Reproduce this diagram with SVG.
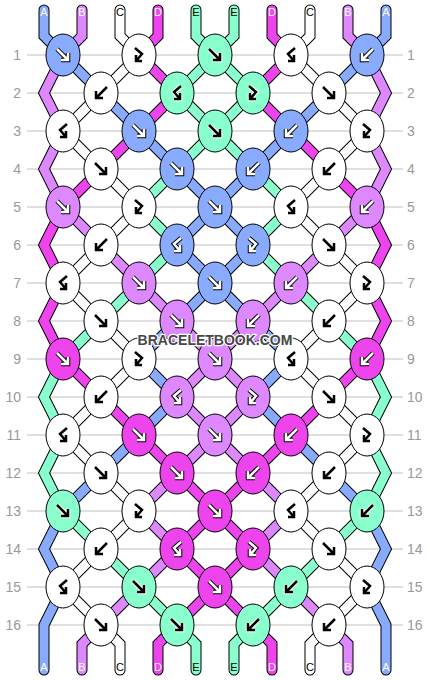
<svg xmlns="http://www.w3.org/2000/svg" xmlns:xlink="http://www.w3.org/1999/xlink" width="430" height="680" viewBox="0 0 430 680">
<style>
.bg{fill:#fff}
.grid{stroke:#c0c0c0;stroke-width:1;fill:none}
.num{font-family:"Liberation Sans",Arial,sans-serif;font-size:14px;fill:#999}
.nl{text-anchor:end}
.nr{text-anchor:start}
.st path{fill:none;stroke-linejoin:miter;stroke-miterlimit:2;stroke-linecap:round}
.st .o{stroke:#000;stroke-width:11}
.st .A{stroke:#88aaff;stroke-width:9}
.st .B{stroke:#dd88ff;stroke-width:9}
.st .C{stroke:#ffffff;stroke-width:9}
.st .D{stroke:#ee44ee;stroke-width:9}
.st .E{stroke:#88ffcc;stroke-width:9}
.k ellipse{stroke:#000;stroke-width:1}
.k .A{fill:#88aaff}
.k .B{fill:#dd88ff}
.k .C{fill:#ffffff}
.k .D{fill:#ee44ee}
.k .E{fill:#88ffcc}
.k use{fill:none;stroke-linejoin:miter;stroke-linecap:butt}
.k .ao{stroke-width:4.5}
.k .ai{stroke-width:2.5}
.d .ao{stroke:#000}
.d .ai{stroke:#fff}
.l .ao{stroke:#fff}
.l .ai{stroke:#000}
.lb{font-family:"Liberation Sans",Arial,sans-serif;font-size:11px;text-anchor:middle}
.lw{fill:#fff}
.lk{fill:#000}
.wm{font-family:"Liberation Sans",Arial,sans-serif;font-size:14px;font-weight:bold;text-anchor:middle;fill:#474747;stroke:#fff;stroke-width:2.5;paint-order:stroke;stroke-linejoin:round}
</style>
<defs>
<path id="f" d="M-6,-6L5,5M5,-2L5,5L-2,5"/>
<path id="b" d="M6,-6L-5,5M-5,-2L-5,5L2,5"/>
<path id="fb" d="M-4,-7L3,-1L-3,6M-3,0L-3,6L3,6"/>
<path id="bf" d="M4,-7L-3,-1L3,6M3,0L3,6L-3,6"/>
</defs>
<rect class="bg" x="0" y="0" width="430" height="680"/>
<g id="rows">
<path class="grid" d="M27,55H403M27,93H403M27,131H403M27,169H403M27,207H403M27,245H403M27,283H403M27,321H403M27,359H403M27,397H403M27,435H403M27,473H403M27,511H403M27,549H403M27,587H403M27,625H403"/>
<g class="num nl">
<text x="21" y="60">1</text><text x="21" y="98">2</text><text x="21" y="136">3</text><text x="21" y="174">4</text><text x="21" y="212">5</text><text x="21" y="250">6</text><text x="21" y="288">7</text><text x="21" y="326">8</text><text x="21" y="364">9</text><text x="21" y="402">10</text><text x="21" y="440">11</text><text x="21" y="478">12</text><text x="21" y="516">13</text><text x="21" y="554">14</text><text x="21" y="592">15</text><text x="21" y="630">16</text>
</g>
<g class="num nr">
<text x="407" y="60">1</text><text x="407" y="98">2</text><text x="407" y="136">3</text><text x="407" y="174">4</text><text x="407" y="212">5</text><text x="407" y="250">6</text><text x="407" y="288">7</text><text x="407" y="326">8</text><text x="407" y="364">9</text><text x="407" y="402">10</text><text x="407" y="440">11</text><text x="407" y="478">12</text><text x="407" y="516">13</text><text x="407" y="554">14</text><text x="407" y="592">15</text><text x="407" y="630">16</text>
</g>
</g>
<g id="connectors" class="st">
<g id="s1"><path class="o" d="M44,10L44,36L63,55L101,93L139,131L177,169L215,207L253,245L215,283L177,321L139,359L177,397L139,435L101,473L63,511L44,549L63,587L44,625L44,670"/><path class="A" d="M44,10L44,36L63,55L101,93L139,131L177,169L215,207L253,245L215,283L177,321L139,359L177,397L139,435L101,473L63,511L44,549L63,587L44,625L44,670"/></g>
<g id="s2"><path class="o" d="M82,10L82,36L63,55L44,93L63,131L44,169L63,207L101,245L139,283L177,321L215,359L253,397L215,435L177,473L139,511L177,549L139,587L101,625L82,644L82,670"/><path class="B" d="M82,10L82,36L63,55L44,93L63,131L44,169L63,207L101,245L139,283L177,321L215,359L253,397L215,435L177,473L139,511L177,549L139,587L101,625L82,644L82,670"/></g>
<g id="s3"><path class="o" d="M120,10L120,36L139,55L101,93L63,131L101,169L139,207L101,245L63,283L101,321L139,359L101,397L63,435L101,473L139,511L101,549L63,587L101,625L120,644L120,670"/><path class="C" d="M120,10L120,36L139,55L101,93L63,131L101,169L139,207L101,245L63,283L101,321L139,359L101,397L63,435L101,473L139,511L101,549L63,587L101,625L120,644L120,670"/></g>
<g id="s4"><path class="o" d="M158,10L158,36L139,55L177,93L139,131L101,169L63,207L44,245L63,283L44,321L63,359L101,397L139,435L177,473L215,511L253,549L215,587L177,625L158,644L158,670"/><path class="D" d="M158,10L158,36L139,55L177,93L139,131L101,169L63,207L44,245L63,283L44,321L63,359L101,397L139,435L177,473L215,511L253,549L215,587L177,625L158,644L158,670"/></g>
<g id="s5"><path class="o" d="M196,10L196,36L215,55L253,93L215,131L177,169L139,207L177,245L139,283L101,321L63,359L44,397L63,435L44,473L63,511L101,549L139,587L177,625L196,644L196,670"/><path class="E" d="M196,10L196,36L215,55L253,93L215,131L177,169L139,207L177,245L139,283L101,321L63,359L44,397L63,435L44,473L63,511L101,549L139,587L177,625L196,644L196,670"/></g>
<g id="s6"><path class="o" d="M234,10L234,36L215,55L177,93L215,131L253,169L291,207L253,245L291,283L329,321L367,359L386,397L367,435L386,473L367,511L329,549L291,587L253,625L234,644L234,670"/><path class="E" d="M234,10L234,36L215,55L177,93L215,131L253,169L291,207L253,245L291,283L329,321L367,359L386,397L367,435L386,473L367,511L329,549L291,587L253,625L234,644L234,670"/></g>
<g id="s7"><path class="o" d="M272,10L272,36L291,55L253,93L291,131L329,169L367,207L386,245L367,283L386,321L367,359L329,397L291,435L253,473L215,511L177,549L215,587L253,625L272,644L272,670"/><path class="D" d="M272,10L272,36L291,55L253,93L291,131L329,169L367,207L386,245L367,283L386,321L367,359L329,397L291,435L253,473L215,511L177,549L215,587L253,625L272,644L272,670"/></g>
<g id="s8"><path class="o" d="M310,10L310,36L291,55L329,93L367,131L329,169L291,207L329,245L367,283L329,321L291,359L329,397L367,435L329,473L291,511L329,549L367,587L329,625L310,644L310,670"/><path class="C" d="M310,10L310,36L291,55L329,93L367,131L329,169L291,207L329,245L367,283L329,321L291,359L329,397L367,435L329,473L291,511L329,549L367,587L329,625L310,644L310,670"/></g>
<g id="s9"><path class="o" d="M348,10L348,36L367,55L386,93L367,131L386,169L367,207L329,245L291,283L253,321L215,359L177,397L215,435L253,473L291,511L253,549L291,587L329,625L348,644L348,670"/><path class="B" d="M348,10L348,36L367,55L386,93L367,131L386,169L367,207L329,245L291,283L253,321L215,359L177,397L215,435L253,473L291,511L253,549L291,587L329,625L348,644L348,670"/></g>
<g id="s10"><path class="o" d="M386,10L386,36L367,55L329,93L291,131L253,169L215,207L177,245L215,283L253,321L291,359L253,397L291,435L329,473L367,511L386,549L367,587L386,625L386,670"/><path class="A" d="M386,10L386,36L367,55L329,93L291,131L253,169L215,207L177,245L215,283L253,321L291,359L253,397L291,435L329,473L367,511L386,549L367,587L386,625L386,670"/></g>
</g>
<g id="labels">
<text class="lb lw" x="44" y="16">A</text><text class="lb lw" x="82" y="16">B</text><text class="lb lk" x="120" y="16">C</text><text class="lb lw" x="158" y="16">D</text><text class="lb lk" x="196" y="16">E</text><text class="lb lk" x="234" y="16">E</text><text class="lb lw" x="272" y="16">D</text><text class="lb lk" x="310" y="16">C</text><text class="lb lw" x="348" y="16">B</text><text class="lb lw" x="386" y="16">A</text>
<text class="lb lw" x="44" y="671">A</text><text class="lb lw" x="82" y="671">B</text><text class="lb lk" x="120" y="671">C</text><text class="lb lw" x="158" y="671">D</text><text class="lb lk" x="196" y="671">E</text><text class="lb lk" x="234" y="671">E</text><text class="lb lw" x="272" y="671">D</text><text class="lb lk" x="310" y="671">C</text><text class="lb lw" x="348" y="671">B</text><text class="lb lw" x="386" y="671">A</text>
</g>
<g id="knots">
<g id="k1_1" class="k d" transform="translate(63,55)"><ellipse class="A" rx="17" ry="21"/><use href="#f" class="ao"/><use href="#f" class="ai"/></g>
<g id="k1_2" class="k l" transform="translate(139,55)"><ellipse class="C" rx="17" ry="21"/><use href="#fb" class="ao"/><use href="#fb" class="ai"/></g>
<g id="k1_3" class="k l" transform="translate(215,55)"><ellipse class="E" rx="17" ry="21"/><use href="#f" class="ao"/><use href="#f" class="ai"/></g>
<g id="k1_4" class="k l" transform="translate(291,55)"><ellipse class="C" rx="17" ry="21"/><use href="#bf" class="ao"/><use href="#bf" class="ai"/></g>
<g id="k1_5" class="k d" transform="translate(367,55)"><ellipse class="A" rx="17" ry="21"/><use href="#b" class="ao"/><use href="#b" class="ai"/></g>
<g id="k2_1" class="k l" transform="translate(101,93)"><ellipse class="C" rx="17" ry="21"/><use href="#b" class="ao"/><use href="#b" class="ai"/></g>
<g id="k2_2" class="k l" transform="translate(177,93)"><ellipse class="E" rx="17" ry="21"/><use href="#bf" class="ao"/><use href="#bf" class="ai"/></g>
<g id="k2_3" class="k l" transform="translate(253,93)"><ellipse class="E" rx="17" ry="21"/><use href="#fb" class="ao"/><use href="#fb" class="ai"/></g>
<g id="k2_4" class="k l" transform="translate(329,93)"><ellipse class="C" rx="17" ry="21"/><use href="#f" class="ao"/><use href="#f" class="ai"/></g>
<g id="k3_1" class="k l" transform="translate(63,131)"><ellipse class="C" rx="17" ry="21"/><use href="#bf" class="ao"/><use href="#bf" class="ai"/></g>
<g id="k3_2" class="k d" transform="translate(139,131)"><ellipse class="A" rx="17" ry="21"/><use href="#f" class="ao"/><use href="#f" class="ai"/></g>
<g id="k3_3" class="k l" transform="translate(215,131)"><ellipse class="E" rx="17" ry="21"/><use href="#f" class="ao"/><use href="#f" class="ai"/></g>
<g id="k3_4" class="k d" transform="translate(291,131)"><ellipse class="A" rx="17" ry="21"/><use href="#b" class="ao"/><use href="#b" class="ai"/></g>
<g id="k3_5" class="k l" transform="translate(367,131)"><ellipse class="C" rx="17" ry="21"/><use href="#fb" class="ao"/><use href="#fb" class="ai"/></g>
<g id="k4_1" class="k l" transform="translate(101,169)"><ellipse class="C" rx="17" ry="21"/><use href="#f" class="ao"/><use href="#f" class="ai"/></g>
<g id="k4_2" class="k d" transform="translate(177,169)"><ellipse class="A" rx="17" ry="21"/><use href="#f" class="ao"/><use href="#f" class="ai"/></g>
<g id="k4_3" class="k d" transform="translate(253,169)"><ellipse class="A" rx="17" ry="21"/><use href="#b" class="ao"/><use href="#b" class="ai"/></g>
<g id="k4_4" class="k l" transform="translate(329,169)"><ellipse class="C" rx="17" ry="21"/><use href="#b" class="ao"/><use href="#b" class="ai"/></g>
<g id="k5_1" class="k d" transform="translate(63,207)"><ellipse class="B" rx="17" ry="21"/><use href="#f" class="ao"/><use href="#f" class="ai"/></g>
<g id="k5_2" class="k l" transform="translate(139,207)"><ellipse class="C" rx="17" ry="21"/><use href="#fb" class="ao"/><use href="#fb" class="ai"/></g>
<g id="k5_3" class="k d" transform="translate(215,207)"><ellipse class="A" rx="17" ry="21"/><use href="#f" class="ao"/><use href="#f" class="ai"/></g>
<g id="k5_4" class="k l" transform="translate(291,207)"><ellipse class="C" rx="17" ry="21"/><use href="#bf" class="ao"/><use href="#bf" class="ai"/></g>
<g id="k5_5" class="k d" transform="translate(367,207)"><ellipse class="B" rx="17" ry="21"/><use href="#b" class="ao"/><use href="#b" class="ai"/></g>
<g id="k6_1" class="k l" transform="translate(101,245)"><ellipse class="C" rx="17" ry="21"/><use href="#b" class="ao"/><use href="#b" class="ai"/></g>
<g id="k6_2" class="k d" transform="translate(177,245)"><ellipse class="A" rx="17" ry="21"/><use href="#bf" class="ao"/><use href="#bf" class="ai"/></g>
<g id="k6_3" class="k d" transform="translate(253,245)"><ellipse class="A" rx="17" ry="21"/><use href="#fb" class="ao"/><use href="#fb" class="ai"/></g>
<g id="k6_4" class="k l" transform="translate(329,245)"><ellipse class="C" rx="17" ry="21"/><use href="#f" class="ao"/><use href="#f" class="ai"/></g>
<g id="k7_1" class="k l" transform="translate(63,283)"><ellipse class="C" rx="17" ry="21"/><use href="#bf" class="ao"/><use href="#bf" class="ai"/></g>
<g id="k7_2" class="k d" transform="translate(139,283)"><ellipse class="B" rx="17" ry="21"/><use href="#f" class="ao"/><use href="#f" class="ai"/></g>
<g id="k7_3" class="k d" transform="translate(215,283)"><ellipse class="A" rx="17" ry="21"/><use href="#f" class="ao"/><use href="#f" class="ai"/></g>
<g id="k7_4" class="k d" transform="translate(291,283)"><ellipse class="B" rx="17" ry="21"/><use href="#b" class="ao"/><use href="#b" class="ai"/></g>
<g id="k7_5" class="k l" transform="translate(367,283)"><ellipse class="C" rx="17" ry="21"/><use href="#fb" class="ao"/><use href="#fb" class="ai"/></g>
<g id="k8_1" class="k l" transform="translate(101,321)"><ellipse class="C" rx="17" ry="21"/><use href="#f" class="ao"/><use href="#f" class="ai"/></g>
<g id="k8_2" class="k d" transform="translate(177,321)"><ellipse class="B" rx="17" ry="21"/><use href="#f" class="ao"/><use href="#f" class="ai"/></g>
<g id="k8_3" class="k d" transform="translate(253,321)"><ellipse class="B" rx="17" ry="21"/><use href="#b" class="ao"/><use href="#b" class="ai"/></g>
<g id="k8_4" class="k l" transform="translate(329,321)"><ellipse class="C" rx="17" ry="21"/><use href="#b" class="ao"/><use href="#b" class="ai"/></g>
<g id="k9_1" class="k d" transform="translate(63,359)"><ellipse class="D" rx="17" ry="21"/><use href="#f" class="ao"/><use href="#f" class="ai"/></g>
<g id="k9_2" class="k l" transform="translate(139,359)"><ellipse class="C" rx="17" ry="21"/><use href="#fb" class="ao"/><use href="#fb" class="ai"/></g>
<g id="k9_3" class="k d" transform="translate(215,359)"><ellipse class="B" rx="17" ry="21"/><use href="#f" class="ao"/><use href="#f" class="ai"/></g>
<g id="k9_4" class="k l" transform="translate(291,359)"><ellipse class="C" rx="17" ry="21"/><use href="#bf" class="ao"/><use href="#bf" class="ai"/></g>
<g id="k9_5" class="k d" transform="translate(367,359)"><ellipse class="D" rx="17" ry="21"/><use href="#b" class="ao"/><use href="#b" class="ai"/></g>
<g id="k10_1" class="k l" transform="translate(101,397)"><ellipse class="C" rx="17" ry="21"/><use href="#b" class="ao"/><use href="#b" class="ai"/></g>
<g id="k10_2" class="k d" transform="translate(177,397)"><ellipse class="B" rx="17" ry="21"/><use href="#bf" class="ao"/><use href="#bf" class="ai"/></g>
<g id="k10_3" class="k d" transform="translate(253,397)"><ellipse class="B" rx="17" ry="21"/><use href="#fb" class="ao"/><use href="#fb" class="ai"/></g>
<g id="k10_4" class="k l" transform="translate(329,397)"><ellipse class="C" rx="17" ry="21"/><use href="#f" class="ao"/><use href="#f" class="ai"/></g>
<g id="k11_1" class="k l" transform="translate(63,435)"><ellipse class="C" rx="17" ry="21"/><use href="#bf" class="ao"/><use href="#bf" class="ai"/></g>
<g id="k11_2" class="k d" transform="translate(139,435)"><ellipse class="D" rx="17" ry="21"/><use href="#f" class="ao"/><use href="#f" class="ai"/></g>
<g id="k11_3" class="k d" transform="translate(215,435)"><ellipse class="B" rx="17" ry="21"/><use href="#f" class="ao"/><use href="#f" class="ai"/></g>
<g id="k11_4" class="k d" transform="translate(291,435)"><ellipse class="D" rx="17" ry="21"/><use href="#b" class="ao"/><use href="#b" class="ai"/></g>
<g id="k11_5" class="k l" transform="translate(367,435)"><ellipse class="C" rx="17" ry="21"/><use href="#fb" class="ao"/><use href="#fb" class="ai"/></g>
<g id="k12_1" class="k l" transform="translate(101,473)"><ellipse class="C" rx="17" ry="21"/><use href="#f" class="ao"/><use href="#f" class="ai"/></g>
<g id="k12_2" class="k d" transform="translate(177,473)"><ellipse class="D" rx="17" ry="21"/><use href="#f" class="ao"/><use href="#f" class="ai"/></g>
<g id="k12_3" class="k d" transform="translate(253,473)"><ellipse class="D" rx="17" ry="21"/><use href="#b" class="ao"/><use href="#b" class="ai"/></g>
<g id="k12_4" class="k l" transform="translate(329,473)"><ellipse class="C" rx="17" ry="21"/><use href="#b" class="ao"/><use href="#b" class="ai"/></g>
<g id="k13_1" class="k l" transform="translate(63,511)"><ellipse class="E" rx="17" ry="21"/><use href="#f" class="ao"/><use href="#f" class="ai"/></g>
<g id="k13_2" class="k l" transform="translate(139,511)"><ellipse class="C" rx="17" ry="21"/><use href="#fb" class="ao"/><use href="#fb" class="ai"/></g>
<g id="k13_3" class="k d" transform="translate(215,511)"><ellipse class="D" rx="17" ry="21"/><use href="#f" class="ao"/><use href="#f" class="ai"/></g>
<g id="k13_4" class="k l" transform="translate(291,511)"><ellipse class="C" rx="17" ry="21"/><use href="#bf" class="ao"/><use href="#bf" class="ai"/></g>
<g id="k13_5" class="k l" transform="translate(367,511)"><ellipse class="E" rx="17" ry="21"/><use href="#b" class="ao"/><use href="#b" class="ai"/></g>
<g id="k14_1" class="k l" transform="translate(101,549)"><ellipse class="C" rx="17" ry="21"/><use href="#b" class="ao"/><use href="#b" class="ai"/></g>
<g id="k14_2" class="k d" transform="translate(177,549)"><ellipse class="D" rx="17" ry="21"/><use href="#bf" class="ao"/><use href="#bf" class="ai"/></g>
<g id="k14_3" class="k d" transform="translate(253,549)"><ellipse class="D" rx="17" ry="21"/><use href="#fb" class="ao"/><use href="#fb" class="ai"/></g>
<g id="k14_4" class="k l" transform="translate(329,549)"><ellipse class="C" rx="17" ry="21"/><use href="#f" class="ao"/><use href="#f" class="ai"/></g>
<g id="k15_1" class="k l" transform="translate(63,587)"><ellipse class="C" rx="17" ry="21"/><use href="#bf" class="ao"/><use href="#bf" class="ai"/></g>
<g id="k15_2" class="k l" transform="translate(139,587)"><ellipse class="E" rx="17" ry="21"/><use href="#f" class="ao"/><use href="#f" class="ai"/></g>
<g id="k15_3" class="k d" transform="translate(215,587)"><ellipse class="D" rx="17" ry="21"/><use href="#f" class="ao"/><use href="#f" class="ai"/></g>
<g id="k15_4" class="k l" transform="translate(291,587)"><ellipse class="E" rx="17" ry="21"/><use href="#b" class="ao"/><use href="#b" class="ai"/></g>
<g id="k15_5" class="k l" transform="translate(367,587)"><ellipse class="C" rx="17" ry="21"/><use href="#fb" class="ao"/><use href="#fb" class="ai"/></g>
<g id="k16_1" class="k l" transform="translate(101,625)"><ellipse class="C" rx="17" ry="21"/><use href="#f" class="ao"/><use href="#f" class="ai"/></g>
<g id="k16_2" class="k l" transform="translate(177,625)"><ellipse class="E" rx="17" ry="21"/><use href="#f" class="ao"/><use href="#f" class="ai"/></g>
<g id="k16_3" class="k l" transform="translate(253,625)"><ellipse class="E" rx="17" ry="21"/><use href="#b" class="ao"/><use href="#b" class="ai"/></g>
<g id="k16_4" class="k l" transform="translate(329,625)"><ellipse class="C" rx="17" ry="21"/><use href="#b" class="ao"/><use href="#b" class="ai"/></g>
</g>
<text class="wm" x="215" y="345">BRACELETBOOK.COM</text>
</svg>
